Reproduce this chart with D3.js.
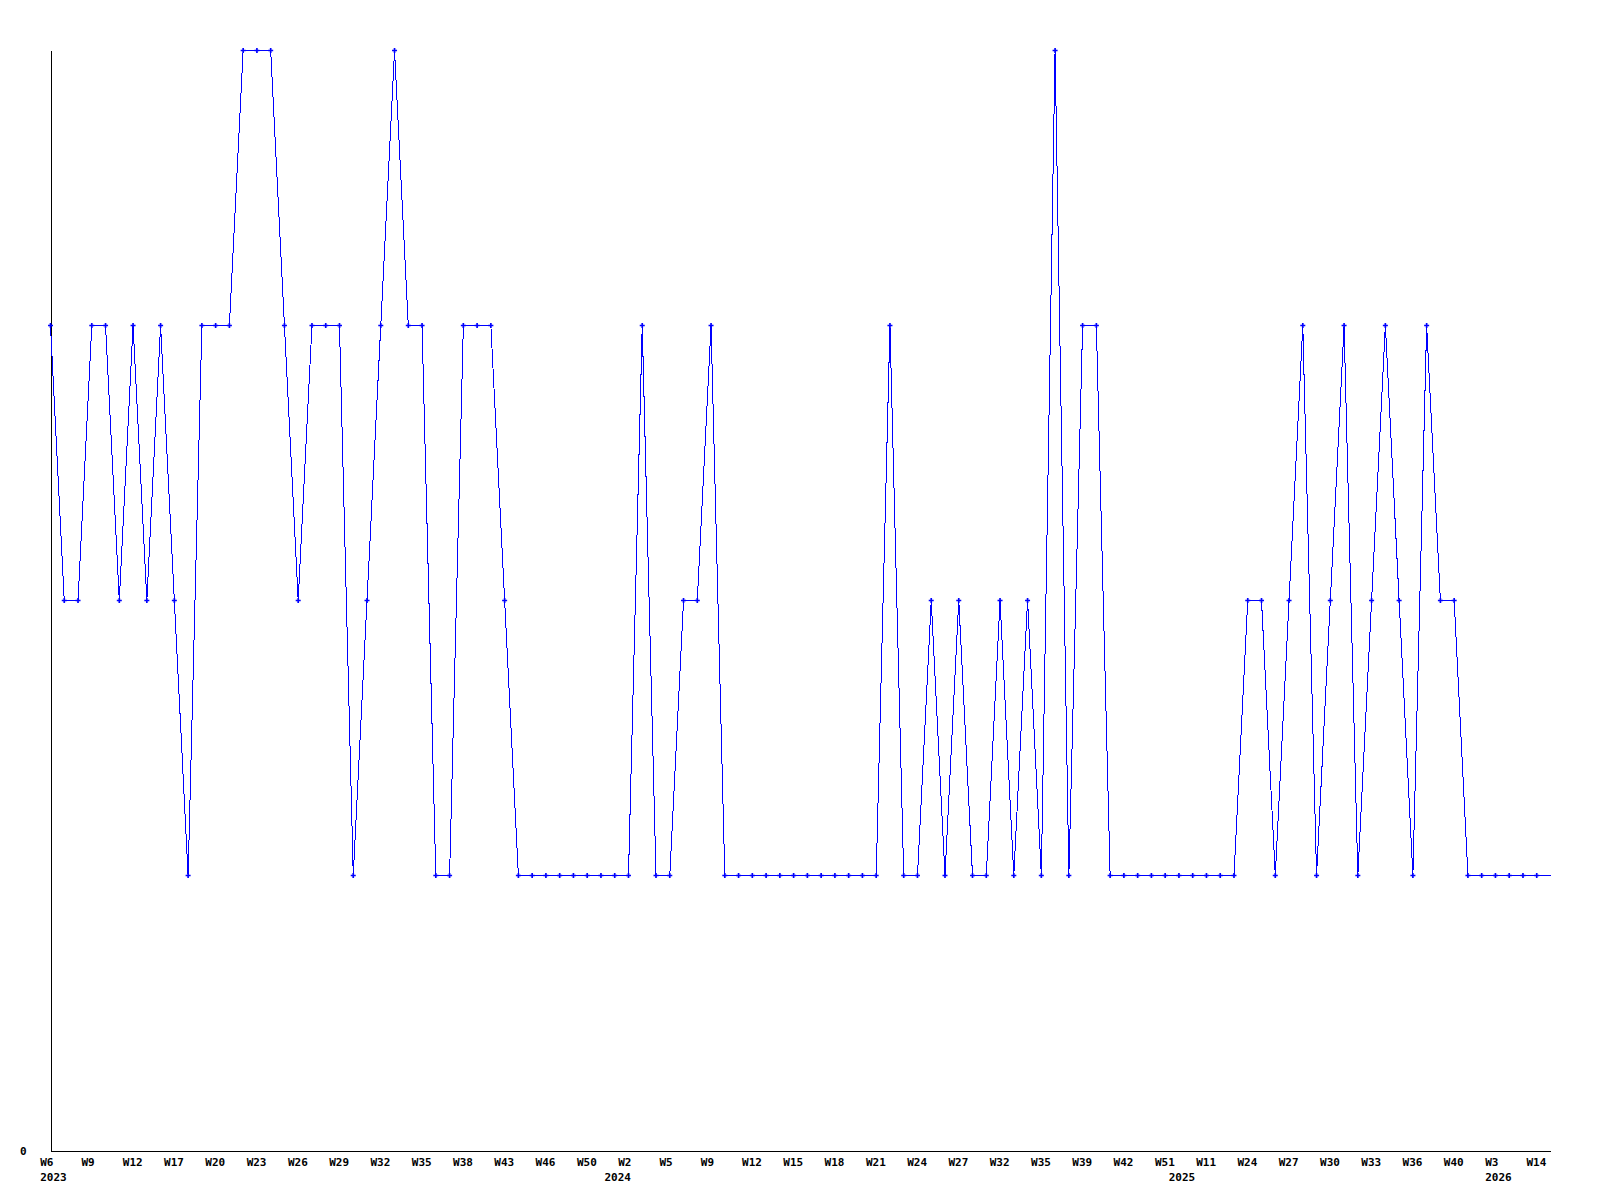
<!DOCTYPE html>
<html>
<head>
<meta charset="utf-8">
<script src="https://cdn.jsdelivr.net/npm/d3@7"></script>
<style>
  body { margin: 0; background: #fff; }
  svg { display: block; }
  .axis text { font-family: "DejaVu Sans Mono", monospace; font-weight: bold; font-size: 11px; fill: #000; }
</style>
</head>
<body>
<div id="chart"></div>
<script>
// one value per data point, left to right (last point is drawn without marker)
const values = [
  3, 2, 2, 3, 3, 2, 3, 2, 3, 2,
  1, 3, 3, 3, 4, 4, 4, 3, 2, 3,
  3, 3, 1, 2, 3, 4, 3, 3, 1, 1,
  3, 3, 3, 2, 1, 1, 1, 1, 1, 1,
  1, 1, 1, 3, 1, 1, 2, 2, 3, 1,
  1, 1, 1, 1, 1, 1, 1, 1, 1, 1,
  1, 3, 1, 1, 2, 1, 2, 1, 1, 2,
  1, 2, 1, 4, 1, 3, 3, 1, 1, 1,
  1, 1, 1, 1, 1, 1, 1, 2, 2, 1,
  2, 3, 1, 2, 3, 1, 2, 3, 2, 1,
  3, 2, 2, 1, 1, 1, 1, 1, 1, 1
];

// week labels, one on every third point
const weekLabels = [
  'W6', 'W9', 'W12', 'W17', 'W20', 'W23', 'W26', 'W29', 'W32', 'W35', 'W38', 'W43',
  'W46', 'W50', 'W2', 'W5', 'W9', 'W12', 'W15', 'W18', 'W21', 'W24', 'W27', 'W32',
  'W35', 'W39', 'W42', 'W51', 'W11', 'W24', 'W27', 'W30', 'W33', 'W36', 'W40', 'W3', 'W14'
];
const labelStep = 3;

// year labels at the first point of each year
const years = ['2023', '2024', '2025', '2026'];
const yearStart = [0, 41, 82, 105];

const yTicks = [0];

const width = 1600;
const height = 1200;

const svg = d3.select('#chart').append('svg')
  .attr('width', width)
  .attr('height', height);

const x = d3.scaleLinear()
  .domain([0, values.length - 1])
  .range([50.5, 1550.5]);

const y = d3.scaleLinear()
  .domain([0, 4])
  .range([1150.5, 50.5]);

// x axis with week labels
const tickIdx = weekLabels.map((_, i) => i * labelStep);
const xAxis = d3.axisBottom(x)
  .tickValues(tickIdx)
  .tickFormat((d, i) => weekLabels[i])
  .tickSize(0)
  .tickSizeOuter(0);

const gx = svg.append('g')
  .attr('class', 'axis')
  .attr('transform', `translate(0,${y(0)})`)
  .call(xAxis);
gx.select('.domain').attr('stroke', '#000').attr('shape-rendering', 'crispEdges');
gx.selectAll('text')
  .attr('text-anchor', 'start')
  .attr('x', -10.8)
  .attr('y', 15.5)
  .attr('dy', null);

// second row: years
const yearAxis = d3.axisBottom(x)
  .tickValues(yearStart)
  .tickFormat((d, i) => years[i])
  .tickSize(0);

const gYear = svg.append('g')
  .attr('class', 'axis')
  .attr('transform', `translate(0,${y(0)})`)
  .call(yearAxis);
gYear.select('.domain').remove();
gYear.selectAll('text')
  .attr('text-anchor', 'start')
  .attr('x', -10.8)
  .attr('y', 30)
  .attr('dy', null);

// y axis, only the zero label
const yAxis = d3.axisLeft(y)
  .tickValues(yTicks)
  .tickFormat(d3.format('d'))
  .tickSize(0)
  .tickSizeOuter(0);

const gy = svg.append('g')
  .attr('class', 'axis')
  .attr('transform', `translate(${x(0)},0)`)
  .call(yAxis);
gy.select('.domain').attr('stroke', '#000').attr('shape-rendering', 'crispEdges');
gy.selectAll('text')
  .attr('text-anchor', 'start')
  .attr('x', -30.5)
  .attr('y', 3.5)
  .attr('dy', null);

// the line
const line = d3.line()
  .x((d, i) => x(i))
  .y(d => y(d));

svg.append('path')
  .datum(values)
  .attr('fill', 'none')
  .attr('stroke', '#0000ff')
  .attr('stroke-width', 1)
  .attr('shape-rendering', 'crispEdges')
  .attr('d', line);

// markers (current, last point has none)
const marker = d3.symbol(d3.symbolCross, 14);
svg.append('g')
  .selectAll('path')
  .data(values.slice(0, -1))
  .join('path')
  .attr('transform', (d, i) => `translate(${x(i)},${y(d)})`)
  .attr('fill', '#0000ff')
  .attr('d', marker);
</script>
</body>
</html>
